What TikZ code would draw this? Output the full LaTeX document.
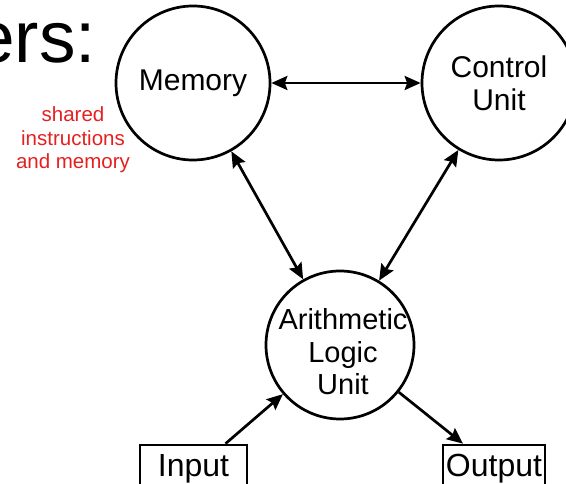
\documentclass[tikz,border=0pt]{standalone}
\usepackage{fontspec}
\setmainfont{Liberation Sans}
\usetikzlibrary{arrows.meta,calc}
\definecolor{notered}{RGB}{228,32,32}
\begin{document}
\begin{tikzpicture}[x=1pt,y=-1pt,
  unit/.style={circle,draw,line width=2.7pt,minimum size=#1,inner sep=0pt,
    align=center,font=\fontsize{30}{33}\selectfont},
  unittext/.style={align=center,inner sep=0pt,font=\fontsize{29}{32.5}\selectfont},
  iobox/.style={rectangle,draw,line width=2.7pt,minimum height=48pt,
    minimum width=#1,inner sep=0pt,font=\fontsize{32}{36}\selectfont},
  link/.style={line width=2.7pt,{Stealth[length=16pt,width=14pt,inset=2.5pt]}-{Stealth[length=16pt,width=14pt,inset=2.5pt]}},
  feed/.style={line width=2.7pt,-{Stealth[length=16pt,width=14pt,inset=2.5pt]}}]
\clip (0,0) rectangle (566,484);

% heading fragment and side note
\node[anchor=base east,inner sep=0pt,font=\fontsize{73}{80}\selectfont] (title) at (96,63) {ers:};
\node[align=center,inner sep=0pt,text=notered,font=\fontsize{20.5}{23.5}\selectfont] (note) at (73,140)
  {shared\\instructions\\and memory};

% the three units
\node[unit=154pt] (mem) at (193,83) {Memory};
\node[unit=154pt] (cu) at (499,83) {Control\\Unit};
\node[unit=148pt] (alu) at (340,345) {};
\node[unittext] (alutext) at (343,352) {Arithmetic\\Logic\\Unit};

% input and output boxes
\node[iobox=107pt] (in) at (193.5,469) {Input};
\node[iobox=102pt] (out) at (494,469) {Output};

% connections
\draw[link] (mem) -- (cu);
\draw[link] (mem) -- (alu);
\draw[link] (cu) -- (alu);
\draw[feed] ([xshift=32pt]in.north) -- (alu);
\draw[feed] (alu) -- ([xshift=-31pt]out.north);
\end{tikzpicture}
\end{document}
